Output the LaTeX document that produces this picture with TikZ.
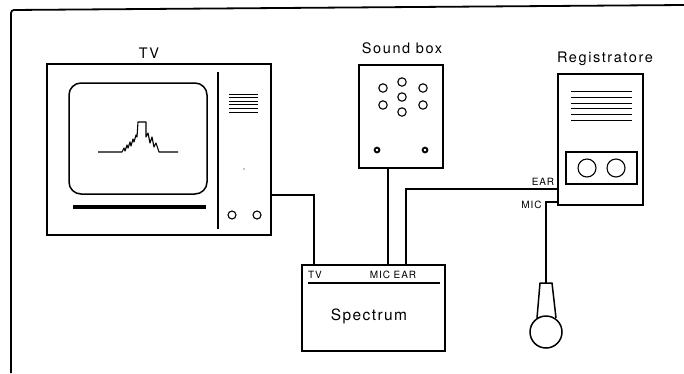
\documentclass[tikz,border=0pt]{standalone}
\usepackage{fontspec}
\setmainfont{TeX Gyre Heros}
\begin{document}
\begin{tikzpicture}[x=1pt,y=-1pt,
  outline/.style={line width=1.5pt},
  cable/.style={line width=2.8pt},
  fine/.style={line width=1.1pt},
  box/.style={draw, outline, inner sep=0pt, rectangle},
  title/.style={font=\fontsize{14.5}{16}\selectfont\addfontfeatures{LetterSpace=11}, anchor=base, inner sep=0pt},
  port/.style={font=\fontsize{10}{11}\selectfont\addfontfeatures{LetterSpace=9}, anchor=base, inner sep=0pt}
]
\useasboundingbox (0,0) rectangle (684,373);

% page frame
\draw[line width=1.8pt, rounded corners=3pt] (11,373) -- (11,10) -- (684,5);

% ---------- TV set ----------
\node[box, minimum width=224pt, minimum height=171pt] (tv) at (159,149.5) {};
\node[title] (tvtitle) at (149,58) {TV};
\draw[outline] (218,72) -- (218,229);
\draw[outline, rounded corners=12pt] (69,83) rectangle (207,194);
\draw[line width=4pt] (73,207) -- (206,207);
\draw[fine] (232,215) circle (4) (257,215) circle (4);
\foreach \yy in {94,97.6,101.2,104.8,108.4,112}
  \draw[line width=0.9pt] (229,\yy) -- (258,\yy);
\fill (244,169) circle (0.6);
% signal trace on the screen
\draw[line width=1.1pt, line join=round]
  (98,152) -- (122,152) -- (124,148) -- (125,151) -- (127,145) -- (128,148)
  -- (130,142) -- (131,146) -- (133,139) -- (134,142) -- (136,135) -- (137,137)
  -- (138,122) -- (146,122) -- (146,137) -- (148,133) -- (150,143) -- (152,137)
  -- (154,147) -- (156,143) -- (159,152) -- (178,152);

% ---------- Sound box ----------
\node[box, minimum width=84pt, minimum height=103pt] (sbox) at (401,116.5) {};
\node[title] (sbtitle) at (402,53) {Sound box};
\foreach \cx/\cy in {383/88, 402/82, 423/88, 383/105, 402/97, 423/105, 402/112}
  \draw[fine] (\cx,\cy) circle (4.2);
\draw[line width=1.8pt] (377,150) circle (2.4) (425,150) circle (2.4);

% ---------- Recorder ----------
\node[box, minimum width=85pt, minimum height=131pt] (rec) at (600.5,139.5) {};
\node[title] (rectitle) at (605,62) {Registratore};
\foreach \yy in {91,97,103,108,114,120}
  \draw[line width=1pt] (571,\yy) -- (632,\yy);
\draw[fine] (566,152) rectangle (637,184);
\draw[fine] (587,168) circle (9) (616,168) circle (9);
\node[port] (earlabel) at (543,185) {EAR};
\node[port] (miclabel) at (531.5,208) {MIC};

% ---------- Spectrum ----------
\node[box, minimum width=143pt, minimum height=86pt] (spec) at (373.5,308) {};
\draw[line width=1.3pt] (308,283) -- (440,283);
\node[port] (sptvlabel) at (315,278) {TV};
\node[port] (spmiclabel) at (393,278) {MIC EAR};
\node[title, font=\fontsize{15.5}{17}\selectfont\addfontfeatures{LetterSpace=9}] (spname) at (369,320) {Spectrum};

% ---------- Microphone ----------
\coordinate (mictop) at (546,283);
\draw[outline, line join=round] (537,318) -- (540,283) -- (552,283) -- (556,318);
\node[draw, outline, circle, minimum size=32pt, inner sep=0pt] (michead) at (546,332) {};

% ---------- cables ----------
\coordinate (tvport) at (271,195);
\coordinate (sptv) at (314,265);
\coordinate (sbport) at (388,168);
\coordinate (spmic) at (388,265);
\coordinate (spear) at (406,265);
\coordinate (recear) at (558,189);
\coordinate (recmic) at (558,202);

\draw[cable] (tvport) -| (sptv);
\draw[cable] (sbport) -- (spmic);
\draw[cable] (spear) |- (recear);
\draw[cable] (recmic) -| (mictop);
\end{tikzpicture}
\end{document}
